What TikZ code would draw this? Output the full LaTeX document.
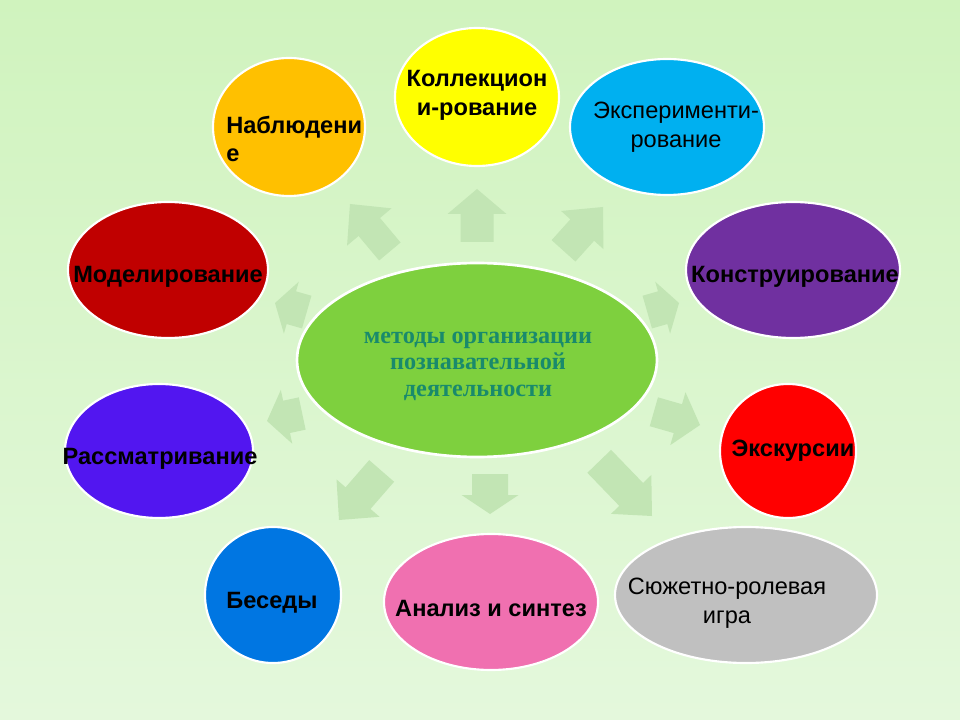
\documentclass[tikz,border=0pt]{standalone}
\usepackage{fontspec}
\setmainfont{Liberation Sans}
\newfontfamily\serifb{Liberation Serif}
\usetikzlibrary{shapes.geometric}
\definecolor{bgtop}{RGB}{208,243,190}
\definecolor{bgbot}{RGB}{228,248,220}
\definecolor{arrowc}{RGB}{194,229,180}
\definecolor{cgreen}{RGB}{126,208,62}
\definecolor{cteal}{RGB}{25,138,108}
\definecolor{corange}{RGB}{255,192,0}
\definecolor{cyellow}{RGB}{255,255,0}
\definecolor{ccyan}{RGB}{0,176,240}
\definecolor{cdred}{RGB}{192,0,0}
\definecolor{cpurple}{RGB}{112,48,160}
\definecolor{cviolet}{RGB}{82,22,240}
\definecolor{cred}{RGB}{255,0,0}
\definecolor{cblue}{RGB}{0,118,226}
\definecolor{cpink}{RGB}{240,112,176}
\definecolor{cgrey}{RGB}{192,192,192}
\tikzset{
  bub/.style={ellipse, draw=white, line width=1.6pt, inner sep=0pt, outer sep=0pt},
  labb/.style={font=\bfseries\fontsize{17.7}{21}\selectfont, align=center, text=black, inner sep=0pt},
  labr/.style={font=\fontsize{17.7}{21.5}\selectfont, align=center, text=black, inner sep=0pt},
  arrowshape/.style={fill=arrowc},
}
% name, colour, cx, cy, rx, ry  (pixels)
\newcommand{\bubble}[6]{\node[bub, fill=#2, minimum width=#5*1.5pt, minimum height=#6*1.5pt] (#1) at (#3,#4) {};}
% tip, angle, length, shaft width, head width, head length
\newcommand{\blockarr}[6]{\fill[arrowshape, shift={(#1)}, rotate=#2] (0,0) -- (-#6,#5/2) -- (-#6,#4/2) -- (-#3,#4/2) -- (-#3,-#4/2) -- (-#6,-#4/2) -- (-#6,-#5/2) -- cycle;}
\begin{document}
\begin{tikzpicture}[x=0.75pt, y=-0.75pt]
\shade[top color=bgtop, bottom color=bgbot] (0,0) rectangle (960,720);
\useasboundingbox (0,0) rectangle (960,720);

% block arrows
\blockarr{477,189}{90}{53}{33}{59}{25}
\blockarr{350,204}{130}{62}{28}{58}{30}
\blockarr{603,207}{48}{59}{32}{57}{31}
\blockarr{679,303}{16}{33}{34}{54}{17}
\blockarr{275,303}{164}{33}{34}{54}{17}
\blockarr{700,425}{-16}{48}{30}{55}{23}
\blockarr{267,421}{192}{36}{33}{55}{20}
\blockarr{339,520}{229}{65}{33}{57}{29}
\blockarr{490,514}{-90}{40}{36}{57}{19}
\blockarr{652,516}{-46}{76}{33}{56}{30}

% centre
\node[bub, fill=cgreen, line width=2pt, minimum width=360*0.75pt, minimum height=194*0.75pt] (center) at (477,360) {};
\node[font=\serifb\bfseries\fontsize{18.2}{19.9}\selectfont, text=cteal, align=center, inner sep=0pt] (centerT) at (478,366) {методы организации\\познавательной\\деятельности};

% bubbles
\bubble{nab}{corange}{289}{127}{76}{69}
\bubble{kol}{cyellow}{477}{97}{82}{69}
\bubble{eks}{ccyan}{667}{127}{97}{68}
\bubble{mod}{cdred}{168}{270}{100}{68}
\bubble{kon}{cpurple}{793}{270}{107}{68}
\bubble{ras}{cviolet}{159}{451}{94}{67}
\bubble{exc}{cred}{788}{451}{68}{67}
\bubble{bes}{cblue}{273}{595}{68}{68}
\bubble{ana}{cpink}{491}{602}{107}{68}
\bubble{syu}{cgrey}{746}{595}{131}{68}

% labels
\node[labb, align=left, anchor=west] (nabT) at (226,139) {Наблюдени\\е};
\node[labb, font=\bfseries\fontsize{17.7}{21.5}\selectfont] (kolT) at (477,95) {Коллекцион\\и-рование};
\node[labr] (eksT) at (676,127) {Эксперименти-\\рование};
\node[labb] (modT) at (168,277) {Моделирование};
\node[labb] (konT) at (795,277) {Конструирование};
\node[labb] (rasT) at (160,459) {Рассматривание};
\node[labb] (excT) at (793,451) {Экскурсии};
\node[labb] (besT) at (272,603) {Беседы};
\node[labb] (anaT) at (491,608) {Анализ и синтез};
\node[labr] (syuT) at (727,603) {Сюжетно-ролевая\\игра};
\end{tikzpicture}
\end{document}
